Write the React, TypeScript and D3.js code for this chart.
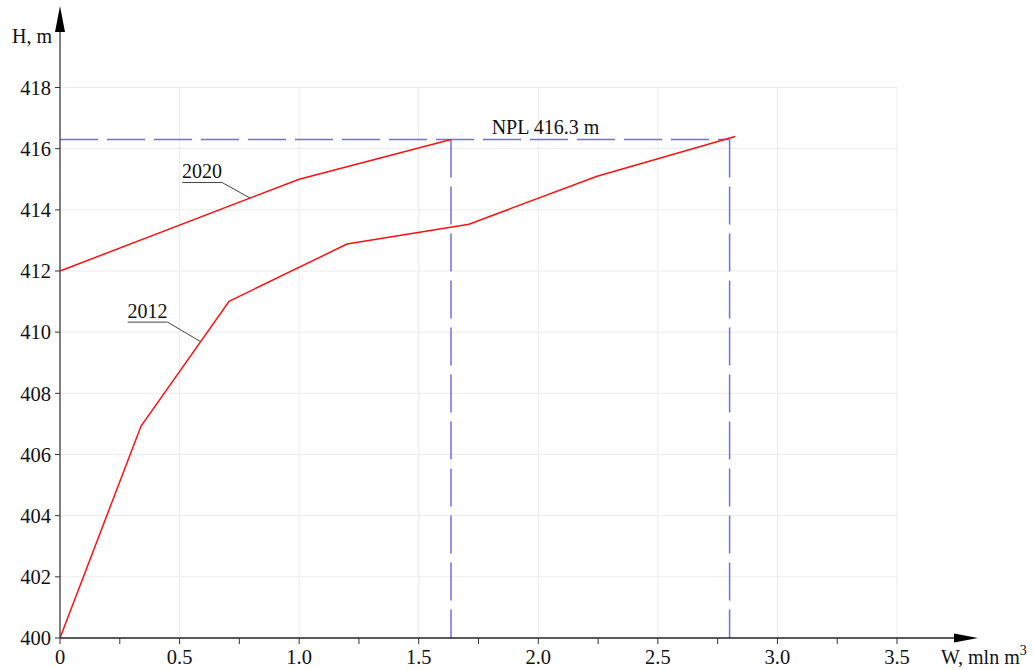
import React from "react";
import * as d3 from "d3";

// Reservoir volume–level curves
const years = ["2012", "2020"];
const volume2012 = [0, 0.339, 0.707, 1.2, 1.71, 2.246, 2.823];
const level2012 = [400, 406.93, 411.01, 412.88, 413.53, 415.1, 416.4];
const volume2020 = [0, 1.0, 1.635];
const level2020 = [412, 415, 416.3];

// Normal pool level and the volumes where each curve reaches it
const nplLevel = 416.3;
const nplVolumes = [1.635, 2.8];

const xTicks = [0, 0.5, 1.0, 1.5, 2.0, 2.5, 3.0, 3.5];
const xMinorTicks = [0.25, 0.75, 1.25, 1.75, 2.25, 2.75, 3.25];
const yTicks = [400, 402, 404, 406, 408, 410, 412, 414, 416, 418];

// Where each curve's leader line meets it (volume along the curve)
const labelAt = [0.588, 0.795];

const W = 1033;
const H = 670;
const FONT = "'Liberation Serif', 'DejaVu Serif', serif";

export default function App() {
  const x = d3.scaleLinear().domain([0, 3.5]).range([60, 897]);
  const y = d3.scaleLinear().domain([400, 418]).range([638, 87.5]);
  const x0 = x(0);
  const y0 = y(400);

  const line = d3
    .line<[number, number]>()
    .x((d) => x(d[0]))
    .y((d) => y(d[1]));

  const series = [
    d3.zip(volume2012, level2012) as [number, number][],
    d3.zip(volume2020, level2020) as [number, number][],
  ];

  const interp = (vs: number[], ls: number[], v: number) => {
    const i = Math.max(1, d3.bisectRight(vs, v));
    const t = (v - vs[i - 1]) / (vs[i] - vs[i - 1]);
    return ls[i - 1] + t * (ls[i] - ls[i - 1]);
  };
  const anchors = [
    [labelAt[0], interp(volume2012, level2012, labelAt[0])],
    [labelAt[1], interp(volume2020, level2020, labelAt[1])],
  ];
  // text offsets of each label from its anchor point
  const labelOffsets = [
    { dx: -73, dy: -24 },
    { dx: -68, dy: -20 },
  ];

  const dash = "38 9";
  const blue = "#6e6ef2";

  return (
    <svg
      width={W}
      height={H}
      style={{ position: "absolute", left: 0, top: 0, background: "#fff" }}
      fontFamily={FONT}
    >
      {/* grid */}
      <g stroke="#ececec" strokeWidth={1}>
        {xTicks.slice(1).map((t) => (
          <line key={"gx" + t} x1={x(t)} x2={x(t)} y1={y(418)} y2={y0} />
        ))}
        {yTicks.slice(1).map((t) => (
          <line key={"gy" + t} x1={x0} x2={x(3.5)} y1={y(t)} y2={y(t)} />
        ))}
      </g>

      {/* normal pool level */}
      <line
        x1={x0}
        x2={x(nplVolumes[1])}
        y1={y(nplLevel)}
        y2={y(nplLevel)}
        stroke={blue}
        strokeWidth={1.5}
        strokeDasharray={dash}
      />
      {nplVolumes.map((v) => (
        <line
          key={"v" + v}
          x1={x(v)}
          x2={x(v)}
          y1={y(nplLevel)}
          y2={y0}
          stroke={blue}
          strokeWidth={1.5}
          strokeDasharray={dash}
        />
      ))}
      <text
        x={x(2.03)}
        y={y(nplLevel) - 5}
        textAnchor="middle"
        fontSize={20}
        fill="#111"
      >
        NPL {nplLevel} m
      </text>

      {/* curves */}
      {series.map((s, i) => (
        <path key={years[i]} d={line(s) ?? ""} fill="none" stroke="#ff1010" strokeWidth={1.5} />
      ))}

      {/* curve labels with leaders */}
      {years.map((yr, i) => {
        const ax = x(anchors[i][0]);
        const ay = y(anchors[i][1]);
        const tx = ax + labelOffsets[i].dx;
        const ty = ay + labelOffsets[i].dy;
        const tw = 40;
        return (
          <g key={"lbl" + yr}>
            <polyline
              points={`${tx},${ty + 4.5} ${tx + tw},${ty + 4.5} ${ax},${ay}`}
              fill="none"
              stroke="#444"
              strokeWidth={1}
            />
            <text x={tx} y={ty} fontSize={20} fill="#111">
              {yr}
            </text>
          </g>
        );
      })}

      {/* y axis */}
      <line x1={x0} x2={x0} y1={y0} y2={28} stroke="#555" strokeWidth={1.5} />
      <path d={`M${x0},6 L${x0 - 5},32 L${x0 + 5},32 Z`} fill="#000" />
      {yTicks.map((t) => (
        <g key={"yt" + t}>
          <line x1={x0 - 5} x2={x0} y1={y(t)} y2={y(t)} stroke="#333" strokeWidth={1} />
          <text
            x={x0 - 9}
            y={y(t)}
            dy="0.35em"
            textAnchor="end"
            fontSize={20.5}
            fill="#111"
          >
            {t}
          </text>
        </g>
      ))}
      <text x={52} y={43} textAnchor="end" fontSize={20} fill="#111">
        H, m
      </text>

      {/* x axis */}
      <line x1={x0} x2={958} y1={y0} y2={y0} stroke="#222" strokeWidth={1.5} />
      <path d={`M978,${y0} L954,${y0 - 4.5} L954,${y0 + 4.5} Z`} fill="#000" />
      {[...xTicks, ...xMinorTicks].map((t) => (
        <line key={"xt" + t} x1={x(t)} x2={x(t)} y1={y0} y2={y0 + 6} stroke="#333" strokeWidth={1} />
      ))}
      {xTicks.map((t) => (
        <text
          key={"xl" + t}
          x={t === 0 ? x0 : x(t)}
          y={664}
          textAnchor="middle"
          fontSize={20.5}
          fill="#111"
        >
          {t === 0 ? "0" : t.toFixed(1)}
        </text>
      ))}
      <text x={941} y={664} fontSize={20} fill="#111">
        W, mln m
        <tspan dy={-9} fontSize={14}>
          3
        </tspan>
      </text>
    </svg>
  );
}
